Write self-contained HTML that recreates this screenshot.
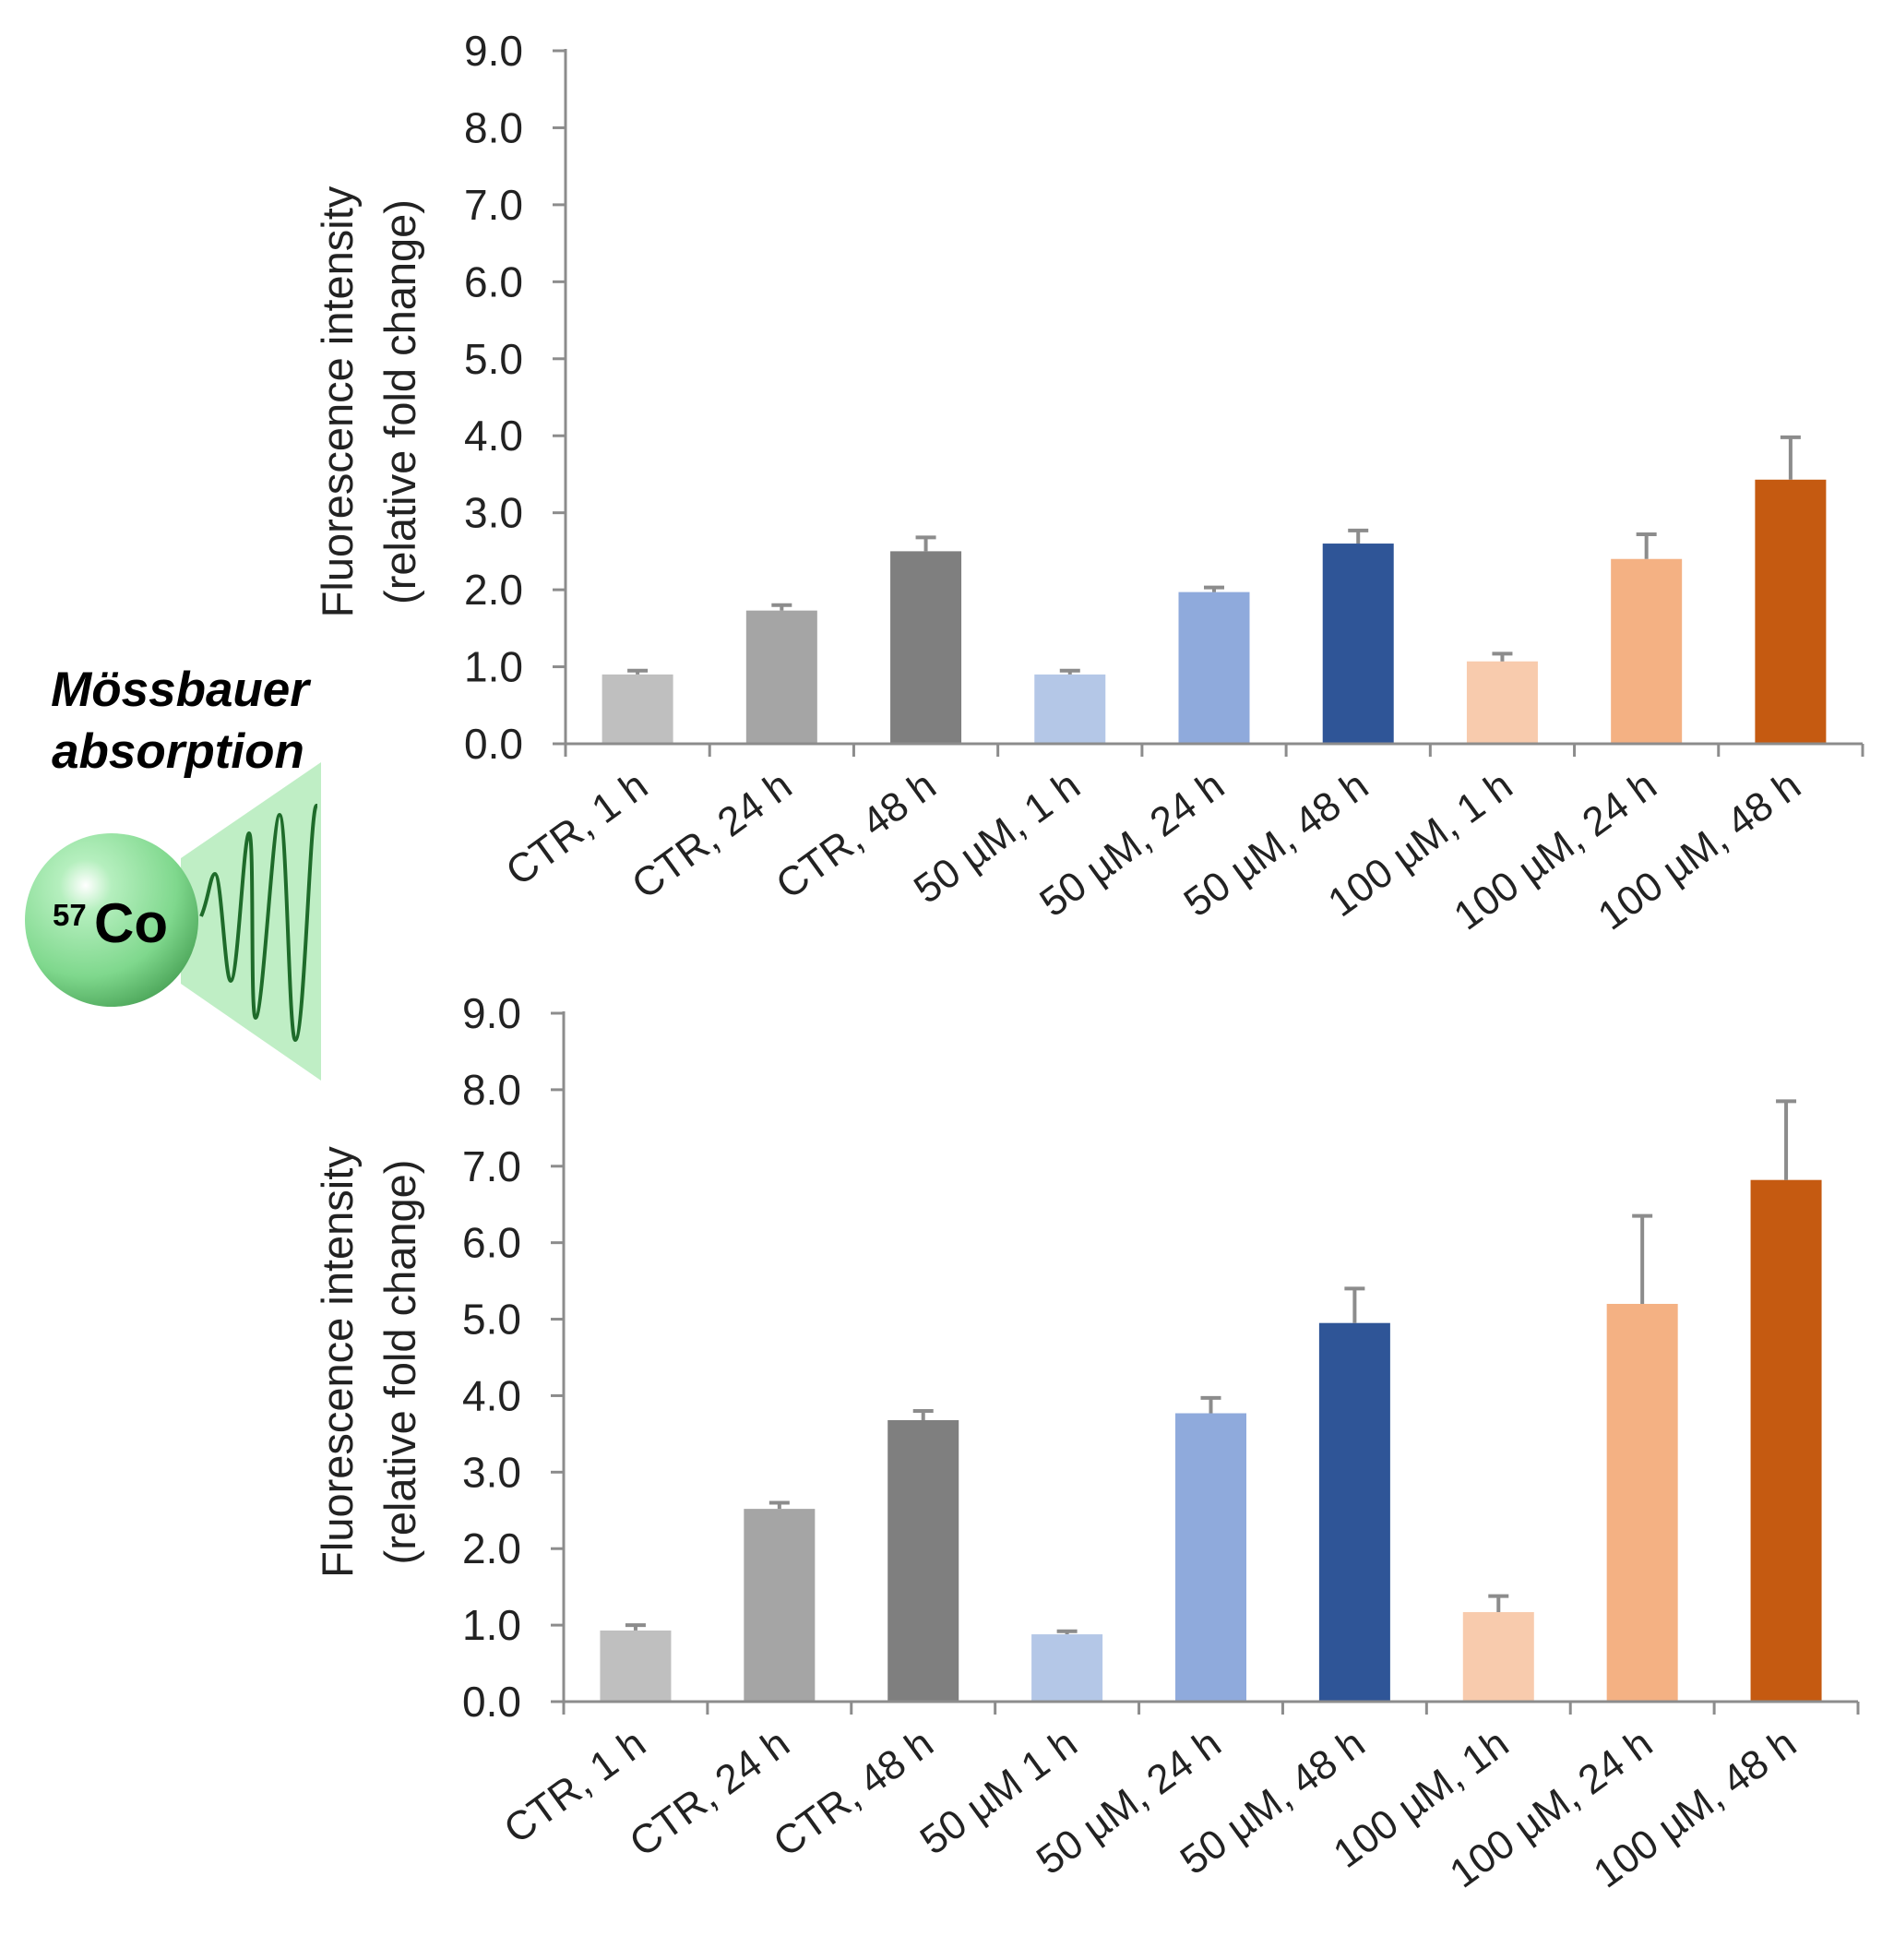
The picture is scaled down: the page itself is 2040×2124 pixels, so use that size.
<!DOCTYPE html>
<html><head><meta charset="utf-8">
<style>
html,body{margin:0;padding:0;background:#fff;}
svg{display:block;}
text{font-family:"Liberation Sans",sans-serif;}
</style></head>
<body>
<svg id="fig" width="2040" height="2124" viewBox="0 0 2040 2124" xmlns="http://www.w3.org/2000/svg">
  <defs>
    <radialGradient id="ballGrad" cx="0.35" cy="0.3" r="0.75">
      <stop offset="0" stop-color="#ffffff"/>
      <stop offset="0.2" stop-color="#b5efbe"/>
      <stop offset="0.7" stop-color="#7fd88d"/>
      <stop offset="1" stop-color="#4fa85c"/>
    </radialGradient>
  </defs>
  <g>
    <text x="195" y="765" font-size="53" font-weight="bold" font-style="italic" text-anchor="middle" fill="#000">Mössbauer</text>
    <text x="193" y="832" font-size="53" font-weight="bold" font-style="italic" text-anchor="middle" fill="#000">absorption</text>
    <polygon points="196,930 348,826 348,1171 196,1066" fill="#bfeec5"/>
    <path d="M218,993 C226,975 228,947 233,947 C240,947 244,1063 250,1063 C258,1063 264,903 270,903 C276,903 271,1103 277,1103 C285,1103 296,883 303,883 C311,883 313,1127 320,1127 C330,1127 336,873 343,873 L344,873" fill="none" stroke="#1e6b2a" stroke-width="4"/>
    <circle cx="121" cy="997" r="94" fill="url(#ballGrad)"/>
    <text x="57" y="1003" font-size="33" font-weight="bold" fill="#000">57</text>
    <text x="102" y="1021" font-size="60" font-weight="bold" fill="#000">Co</text>
  </g>
  <g id="chart1"></g>
  <g id="chart2"></g>
</svg>
<script>
const categoriesTop = ["CTR, 1 h","CTR, 24 h","CTR, 48 h","50 µM, 1 h","50 µM, 24 h","50 µM, 48 h","100 µM, 1 h","100 µM, 24 h","100 µM, 48 h"];
const categoriesBottom = ["CTR, 1 h","CTR, 24 h","CTR, 48 h","50 µM 1 h","50 µM, 24 h","50 µM, 48 h","100 µM, 1h","100 µM, 24 h","100 µM, 48 h"];
const valuesTop = [0.9,1.73,2.5,0.9,1.97,2.6,1.07,2.4,3.43];
const errorTop = [0.05,0.07,0.18,0.05,0.06,0.17,0.1,0.32,0.55];
const valuesBottom = [0.93,2.52,3.68,0.88,3.77,4.95,1.17,5.2,6.82];
const errorBottom = [0.07,0.08,0.12,0.04,0.2,0.45,0.21,1.15,1.03];
const yTicks = [0,1,2,3,4,5,6,7,8,9];
const barColors = ["#bfbfbf","#a5a5a5","#7f7f7f","#b4c7e7","#8faadc","#2f5597","#f8cbad","#f4b183","#c55a11"];

const NS = "http://www.w3.org/2000/svg";
function mk(tag, attrs, parent){
  const e = document.createElementNS(NS, tag);
  for (const k in attrs) e.setAttribute(k, attrs[k]);
  parent.appendChild(e);
  return e;
}

function drawChart(g, cats, vals, errs, cfg){
  const x0 = cfg.x0, x1 = cfg.x1, yBase = cfg.yBase, yTop = cfg.yTop;
  const yScale = v => yBase - (yBase - yTop) * v / 9;
  const n = cats.length;
  const step = (x1 - x0) / n;
  const xScale = i => x0 + step * (i + 0.5);
  const bw = 77;

  yTicks.forEach(t => {
    const y = yScale(t);
    const tk = mk("line", {x1: x0 - 14, x2: x0, y1: y, y2: y, stroke: "#8c8c8c", "stroke-width": 3}, g);
    
    
    const lb = mk("text", {x: x0 - 46, y: y + 16, "font-size": 46, "text-anchor": "end", fill: "#222"}, g);
    lb.textContent = t.toFixed(1);
    
    
  });

  vals.forEach((v, i) => {
    const cx = xScale(i);
    const bar = mk("rect", {x: cx - bw/2, y: yScale(v), width: bw, height: yBase - yScale(v), fill: barColors[i]}, g);
    
    
    const et = yScale(v + errs[i]);
    const el = mk("path", {d: `M${cx},${yScale(v)}V${et}M${cx-11},${et}H${cx+11}`, stroke: "#8c8c8c", "stroke-width": 4, fill: "none"}, g);
    
    
  });

  const ax = mk("line", {x1: x0, x2: x0, y1: yTop - 2, y2: yBase, stroke: "#8c8c8c", "stroke-width": 3}, g);
  
  
  const xa = mk("line", {x1: x0, x2: x1, y1: yBase, y2: yBase, stroke: "#8c8c8c", "stroke-width": 3}, g);
  
  

  for (let i = 0; i <= n; i++) {
    const x = x0 + step * i;
    const tk = mk("line", {x1: x, x2: x, y1: yBase, y2: yBase + 14, stroke: "#8c8c8c", "stroke-width": 3}, g);
    
    
  }

  cats.forEach((c, i) => {
    const x = xScale(i) + 14, y = yBase + 52;
    const lb = mk("text", {x: x, y: y, "font-size": 44, "text-anchor": "end", fill: "#222", transform: `rotate(-36 ${x} ${y})`}, g);
    lb.textContent = c;
    
    
  });

  const mid = (yTop + yBase) / 2 + 5;
  const t1 = mk("text", {x: 382, y: mid, "font-size": 47, "text-anchor": "middle", fill: "#222", transform: `rotate(-90 382 ${mid})`}, g);
  t1.textContent = "Fluorescence intensity";
  
  
  const t2 = mk("text", {x: 450, y: mid, "font-size": 47, "text-anchor": "middle", fill: "#222", transform: `rotate(-90 450 ${mid})`}, g);
  t2.textContent = "(relative fold change)";
  
  
}

drawChart(document.getElementById("chart1"), categoriesTop, valuesTop, errorTop, {x0: 613, x1: 2019, yBase: 806, yTop: 55});
drawChart(document.getElementById("chart2"), categoriesBottom, valuesBottom, errorBottom, {x0: 611, x1: 2014, yBase: 1844, yTop: 1098});
</script>
</body></html>
